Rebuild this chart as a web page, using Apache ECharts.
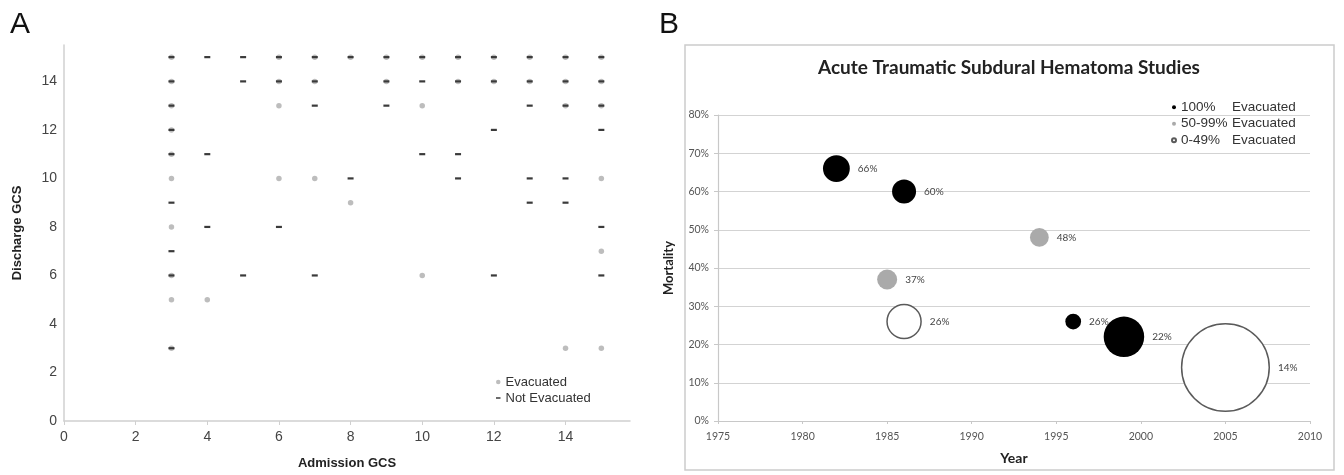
<!DOCTYPE html>
<html><head><meta charset="utf-8">
<script src="https://cdn.jsdelivr.net/npm/echarts@6/dist/echarts.min.js"></script>
<style>html,body{margin:0;padding:0;background:#fff}#c{width:1344px;height:475px}</style>
</head><body><div id="c"></div>
<script>
// ---------- Panel A: Admission GCS vs Discharge GCS ----------
// points where only evacuated patients were seen
const evacuatedOnly = [[6,13],[10,13],[3,10],[6,10],[7,10],[15,10],[8,9],[3,8],[15,7],[10,6],[3,5],[4,5],[14,3],[15,3]];
// points where only non-evacuated patients were seen
const notEvacuatedOnly = [[4,15],[5,15],[5,14],[10,14],[7,13],[9,13],[13,13],[12,12],[15,12],[4,11],[10,11],[11,11],
  [8,10],[11,10],[13,10],[14,10],[3,9],[13,9],[14,9],[4,8],[6,8],[15,8],[3,7],[5,6],[7,6],[12,6],[15,6]];
// points where both groups overlap
const bothGroups = [[3,15],[6,15],[7,15],[8,15],[9,15],[10,15],[11,15],[12,15],[13,15],[14,15],[15,15],
  [3,14],[6,14],[7,14],[9,14],[11,14],[12,14],[13,14],[14,14],[15,14],
  [3,13],[14,13],[15,13],[3,12],[3,11],[3,6],[3,3]];
const evacuatedPts = evacuatedOnly.concat(bothGroups);
const notEvacuatedPts = notEvacuatedOnly.concat(bothGroups);

// ---------- Panel B: Acute traumatic SDH studies ----------
const studyYear  = [1982, 1986, 1994, 1985, 1986, 1996, 1999, 2005];
const mortality  = [66,   60,   48,   37,   26,   26,   22,   14];
const bubbleSize = [180,  144,  88,   100,  290,  62,   410,  1920];
const evacGroup  = ['100%','100%','50-99%','50-99%','0-49%','100%','100%','0-49%'];
const groupNames = ['100%','50-99%','0-49%'];

const FA = 'Liberation Sans, Arial, sans-serif';
const FB = 'Lato, sans-serif';
const groupStyle = {
  '100%':   {color:'#000000', opacity:1},
  '50-99%': {color:'#aaaaaa', opacity:1},
  '0-49%':  {color:'#ffffff', borderColor:'#5a5a5a', borderWidth:1.5, opacity:1}
};

const bubbleSeries = groupNames.map(g => ({
  name: g + ' Evacuated',
  type: 'scatter', xAxisIndex: 1, yAxisIndex: 1,
  data: studyYear.map((y, i) => [y, mortality[i], bubbleSize[i], evacGroup[i]]).filter(d => d[3] === g),
  symbolSize: v => 2 * Math.sqrt(v[2]),
  itemStyle: groupStyle[g],
  label: {show:true, position:'right', distance:8, formatter: p => p.value[1] + '%',
          color:'#444', fontSize:10, fontFamily:FB},
  emphasis:{disabled:true}
}));

const chart = echarts.init(document.getElementById('c'));
chart.setOption({
  backgroundColor:'#ffffff',
  animation:false,
  title:[
    {text:'A', left:10, top:10, padding:0, textStyle:{fontFamily:FA, fontSize:30, fontWeight:'normal', color:'#111'}},
    {text:'B', left:659, top:10, padding:0, textStyle:{fontFamily:FA, fontSize:30, fontWeight:'normal', color:'#111'}},
    {text:'Acute Traumatic Subdural Hematoma Studies', left:818, top:58, padding:0,
     textStyle:{fontFamily:FB, fontSize:19, fontWeight:'bold', color:'#222'}}
  ],
  graphic:[{type:'rect', silent:true, shape:{x:685, y:45, width:649, height:425},
            style:{fill:'none', stroke:'#cccccc', lineWidth:1.5}}],
  legend:[
    {left:496, top:374, orient:'vertical', padding:0, itemGap:0, itemWidth:4.5, itemHeight:4.5,
     selectedMode:false,
     data:[{name:'Evacuated', icon:'circle'}, {name:'Not Evacuated', icon:'path://M0,0H6V2H0Z'}],
     textStyle:{fontFamily:FA, fontSize:13, color:'#333', lineHeight:16}},
    {left:1171, top:99, orient:'vertical', padding:0, itemGap:0, itemWidth:4, itemHeight:4,
     selectedMode:false,
     data:groupNames.map(g => ({name: g + ' Evacuated', icon:'circle'})),
     formatter: n => { const p = n.split(' '); return '{a|' + p[0] + '}{b|' + p[1] + '}'; },
     textStyle:{fontFamily:FA, fontSize:13.5, color:'#333', lineHeight:16.5,
       rich:{a:{width:51, fontFamily:FA, fontSize:13.5, color:'#333', lineHeight:16.5},
             b:{fontFamily:FA, fontSize:13.5, color:'#333', lineHeight:16.5}}}}
  ],
  grid:[
    {left:64, top:45, width:566, height:377, containLabel:false},
    {left:718, top:115, width:592, height:306, containLabel:false}
  ],
  xAxis:[
    {gridIndex:0, type:'value', min:0, max:15.8, interval:2,
     axisLine:{show:true, lineStyle:{color:'#d0d0d0', width:1.5}},
     axisTick:{show:true, length:4, lineStyle:{color:'#d0d0d0'}},
     axisLabel:{showMaxLabel:false, margin:9, color:'#444', fontSize:14, fontFamily:FA},
     splitLine:{show:false},
     name:'Admission GCS', nameLocation:'middle', nameGap:36,
     nameTextStyle:{fontFamily:FA, fontSize:13, fontWeight:'bold', color:'#222'}},
    {gridIndex:1, type:'value', min:1975, max:2010, interval:5,
     axisLine:{show:true, lineStyle:{color:'#c8c8c8', width:1.2}},
     axisTick:{show:true, length:3, lineStyle:{color:'#c8c8c8'}},
     axisLabel:{margin:10, color:'#555', fontSize:10.5, fontFamily:FB, formatter: v => String(v)},
     splitLine:{show:false},
     name:'Year', nameLocation:'middle', nameGap:30,
     nameTextStyle:{fontFamily:FB, fontSize:14, fontWeight:'bold', color:'#222'}}
  ],
  yAxis:[
    {gridIndex:0, type:'value', min:0, max:15.5, interval:2,
     axisLine:{show:true, lineStyle:{color:'#d0d0d0', width:1.5}},
     axisTick:{show:false},
     axisLabel:{showMaxLabel:false, margin:7, color:'#444', fontSize:14, fontFamily:FA},
     splitLine:{show:false},
     name:'Discharge GCS', nameLocation:'middle', nameGap:40,
     nameTextStyle:{fontFamily:FA, fontSize:13, fontWeight:'bold', color:'#222'}},
    {gridIndex:1, type:'value', min:0, max:80, interval:10,
     axisLine:{show:true, lineStyle:{color:'#c8c8c8', width:1.2}},
     axisTick:{show:true, length:4, lineStyle:{color:'#c8c8c8'}},
     axisLabel:{margin:9, formatter:'{value}%', color:'#555', fontSize:10.5, fontFamily:FB},
     splitLine:{show:true, lineStyle:{color:'#d3d3d3', width:1.2}},
     name:'Mortality', nameLocation:'middle', nameGap:43,
     nameTextStyle:{fontFamily:FB, fontSize:13, fontWeight:'bold', color:'#222'}}
  ],
  series:[
    {name:'Evacuated', type:'scatter', xAxisIndex:0, yAxisIndex:0, data:evacuatedPts,
     symbol:'circle', symbolSize:5.5, itemStyle:{color:'#bdbdbd', opacity:1}, z:2, emphasis:{disabled:true}},
    {name:'Not Evacuated', type:'scatter', xAxisIndex:0, yAxisIndex:0, data:notEvacuatedPts,
     symbol:'rect', symbolSize:[6,2.2], itemStyle:{color:'#3a3a3a', opacity:1}, z:3, emphasis:{disabled:true}}
  ].concat(bubbleSeries)
});
</script></body></html>
